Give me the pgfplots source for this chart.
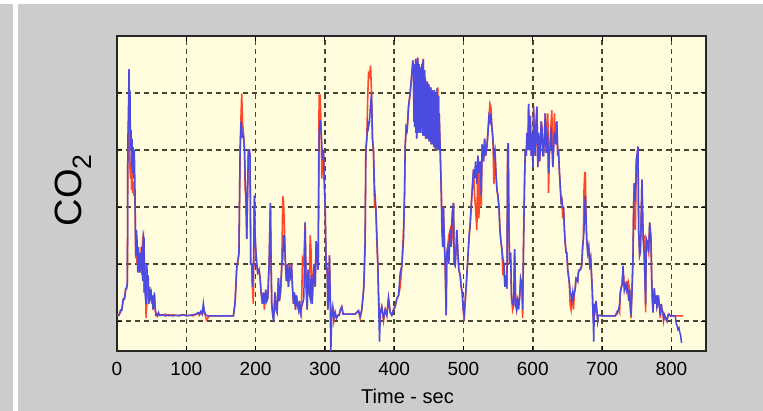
\documentclass[border=0pt]{standalone}
\usepackage{fontspec}
\setmainfont{Liberation Sans}
\usepackage{pgfplots}
\pgfplotsset{compat=1.18}
\usepackage{pgfplotstable}
\definecolor{bggray}{RGB}{204,204,204}
\definecolor{plotbg}{RGB}{255,253,222}
\definecolor{gridc}{RGB}{70,70,50}
\definecolor{co2blue}{RGB}{75,75,225}
\definecolor{co2red}{RGB}{255,72,40}

\pgfplotstableread{
t r b
0 1.10 1.10
3 1.12 1.10
5 1.15 1.19
7 1.22 1.19
9 1.35 1.39
11 1.42 1.39
12.5 1.55 1.57
14 1.60 1.57
15 1.65 1.70
15.6 3.80 4.12
16.4 4.30 4.60
17.3 4.70 5.42
18 4.10 4.40
18.7 3.70 5.05
19.5 3.50 4.00
20.2 3.80 4.35
21 3.30 3.70
21.8 3.60 4.20
22.6 3.25 3.60
23.4 3.45 4.05
24.2 3.20 3.50
25 3.30 4.00
26 3.10 3.30
27 2.10 2.15
28 2.50 2.60
29 2.00 2.40
30 2.30 1.85
31 1.90 2.30
32 2.20 2.00
33 1.85 1.85
34 2.00 2.20
35 2.30 1.90
36 1.80 2.30
37 2.45 1.70
38 2.50 2.50
39 1.50 2.45
40 1.60 1.60
41 2.00 1.40
42 1.05 1.30
43 1.30 2.00
44 1.70 1.70
45 1.50 1.80
46 1.60 1.30
47 1.40 1.60
48 1.45 1.45
49 1.50 1.55
50 1.30 1.35
51 1.40 1.45
52 1.20 1.20
54 1.45 1.50
55 1.20 1.25
56 1.15 1.10
58 1.08 1.10
60 1.12 1.15
61 1.10 1.10
65 1.10 1.11
70 1.12 1.09
75 1.09 1.11
80 1.11 1.09
85 1.10 1.10
90 1.10 1.09
95 1.11 1.11
100 1.10 1.09
105 1.10 1.10
110 1.09 1.11
114 1.12 1.12
117 1.13 1.15
119 1.10 1.12
121 1.16 1.17
123 1.12 1.12
124.6 1.20 1.31
126 1.15 1.18
127.5 1.10 1.12
129 1.02 1.10
131 1.05 1.09
133 1.09 1.09
140 1.09 1.09
150 1.09 1.09
160 1.09 1.09
168 1.09 1.09
170.4 1.30 1.34
172.8 1.90 1.97
175 2.10 2.10
176 2.20 2.20
177.6 3.90 4.00
179 4.60 4.50
180 4.99 4.40
181 4.50 4.23
182.5 4.30 4.25
184 4.00 4.00
185 3.30 3.50
186 3.19 3.19
187.3 2.44 2.44
188.8 3.50 3.50
189.6 4.00 4.00
191 4.00 4.00
192 3.90 3.90
193 2.00 2.00
194.5 2.00 2.00
195.4 1.60 1.60
196.8 1.30 1.80
198.3 3.20 3.20
199 2.60 2.60
200 2.30 2.30
201.7 2.00 2.00
203 1.85 1.85
205 1.90 1.90
206.5 1.75 1.75
208 1.50 1.50
209.9 1.30 1.30
211.3 1.50 1.50
212.7 1.20 1.30
214.7 1.55 1.55
216 1.35 1.35
217.6 1.40 1.40
219.5 2.00 2.00
221.4 3.07 3.07
222.4 2.00 2.00
223.3 1.30 1.30
224.8 1.10 1.10
226 1.05 0.98
228 1.50 1.50
229.6 1.20 1.20
231 1.15 1.15
233 1.75 1.75
234.4 1.35 1.35
235.9 1.50 1.50
237.8 1.97 1.97
239.3 3.19 2.10
240.3 3.10 2.50
241.7 2.60 2.50
243 2.00 2.00
244.5 1.70 1.70
246 2.00 2.00
247.4 1.60 1.60
248.9 1.90 1.90
250.3 1.80 1.80
251.8 2.00 2.00
253.2 1.60 1.60
254.7 1.30 1.30
256 1.50 1.50
257.6 1.20 1.20
259 1.45 1.45
260.4 1.30 1.30
262 1.20 1.20
263.3 1.35 1.35
264.7 1.15 1.15
266 1.10 1.25
267.7 2.09 1.30
269.6 2.00 1.40
271.5 2.73 2.73
273 1.60 1.60
274.4 1.20 1.20
275.8 1.90 1.90
277.3 1.50 1.50
278.8 2.50 1.40
280.2 2.20 1.80
281.6 1.30 1.30
283 1.70 1.70
284.5 2.00 2.00
286 1.60 1.60
287.4 2.40 2.40
288.8 2.10 2.10
290.3 1.90 1.90
291.7 4.96 4.30
293.1 4.96 4.52
294.6 4.40 4.30
295.6 3.50 4.10
296.5 3.83 3.83
297.9 4.00 4.00
299 3.50 3.50
300.4 3.00 3.00
301.8 2.00 2.00
303.3 1.90 1.90
304.3 1.20 1.20
305.2 1.45 1.45
306.6 2.15 2.15
307.6 1.50 1.50
308.5 1.10 0.40
310 1.10 1.10
311.4 1.25 1.25
312.9 1.00 1.05
314.8 1.15 1.15
316.7 1.05 1.05
318.6 1.10 1.10
320.6 1.10 1.10
322.5 1.20 1.20
324.4 1.25 1.25
326.3 1.12 1.12
329.2 1.12 1.12
334 1.12 1.12
338.8 1.12 1.12
343.7 1.12 1.12
346 1.15 1.15
348.5 1.18 1.18
350.9 1.05 1.08
353.3 1.20 1.20
354.8 1.40 1.40
356.2 1.60 1.60
357.2 2.00 2.00
358.1 2.41 2.41
359.1 4.00 4.00
360.5 4.20 4.20
362 5.00 4.47
363 5.34 4.40
364.4 5.30 4.50
365.9 5.48 4.80
367.3 5.00 4.99
368.7 4.20 4.20
370.1 4.00 4.00
371.6 3.00 3.37
373.5 3.00 3.00
374.9 2.40 2.55
376.4 2.00 2.00
377.3 1.51 1.51
378.8 1.10 0.64
380.2 1.15 1.15
382.1 1.25 1.25
384.6 1.00 1.05
387 1.20 1.20
389.4 1.10 1.10
391.8 1.40 1.40
394.2 1.15 1.15
396.6 1.10 1.10
399 1.20 1.20
401.4 1.25 1.25
403.8 1.39 1.39
406.3 1.45 1.45
408.7 1.60 1.85
411.1 1.97 1.97
413.5 2.60 2.44
414.9 3.20 3.20
415.9 4.06 4.06
417.3 4.40 4.40
418.8 4.35 4.35
420.7 4.76 4.76
423.1 5.00 5.00
425.5 5.34 5.34
427 5.57 5.57
428 5.30 5.30
428.5 4.50 4.50
429 5.50 5.50
429.5 4.40 4.40
430 5.45 5.45
430.5 4.60 4.60
431 5.60 5.60
431.5 4.30 4.30
432 5.40 5.40
432.5 4.20 4.20
433 5.55 5.55
433.5 4.40 4.40
434 5.62 5.62
434.5 4.30 4.30
435 5.30 5.30
435.5 4.50 4.50
436 5.50 5.50
436.5 4.35 4.35
437 5.40 5.40
437.5 4.30 4.30
438 5.45 5.45
438.5 4.50 4.50
439 5.20 5.20
439.5 4.40 4.40
440 5.50 5.50
440.5 4.30 4.30
441 5.55 5.55
441.5 4.25 4.25
442 5.60 5.60
442.5 4.40 4.40
443 5.30 5.30
443.5 4.25 4.25
444 5.40 5.40
444.5 4.30 4.30
445 5.25 5.25
445.5 4.20 4.20
446 5.20 5.20
446.5 4.30 4.30
447 5.15 5.15
447.5 4.20 4.20
448 5.20 5.20
448.5 4.25 4.25
449 5.10 5.10
449.5 4.20 4.20
450 5.15 5.15
450.5 4.15 4.15
451 5.10 5.10
451.5 4.25 4.25
452 5.05 5.05
452.5 4.15 4.15
453 5.10 5.10
453.5 4.10 4.10
454 5.00 5.00
454.5 4.20 4.20
455 5.05 5.05
455.5 4.10 4.10
456 5.00 5.00
456.5 4.15 4.15
457 4.95 4.95
457.5 4.05 4.05
458 5.05 5.05
458.5 4.10 4.10
459 4.90 4.90
459.5 4.00 4.00
460 5.00 5.00
460.5 4.10 4.10
461 4.85 4.85
461.5 4.05 4.05
462 5.08 5.08
462.5 4.00 4.00
463 5.10 4.90
463.5 4.05 4.05
464 4.95 4.95
464.5 4.00 4.00
465 4.64 4.64
466.4 4.00 4.00
467.9 3.30 3.30
468.8 2.90 2.60
470.2 2.30 2.30
471.1 3.00 3.00
472.6 2.30 2.30
473.6 1.90 2.03
475 1.10 1.10
476 2.20 2.20
477.4 2.30 2.30
478.9 2.50 2.00
480.8 2.60 2.60
482.2 2.30 2.30
483.7 2.50 2.90
485.6 3.07 3.07
486.6 2.00 2.00
488 1.97 1.97
489.5 2.30 2.30
490.4 2.60 2.60
491.9 2.20 2.20
493.3 1.90 1.90
495.3 1.80 1.80
496.7 1.60 1.60
498.2 1.50 1.50
499.6 1.20 1.20
501 1.00 1.10
502.5 1.35 1.35
503.9 1.60 1.60
505.3 1.90 1.90
506.8 2.20 2.20
508.2 2.50 2.50
509.7 2.70 2.70
511.1 3.00 3.00
512.6 3.30 3.30
514.5 3.66 3.66
516 3.20 3.50
517.4 3.00 3.80
519.3 2.60 3.40
520.8 3.90 3.90
522.2 2.80 3.60
524.2 3.80 3.80
525.6 3.00 3.20
527 4.10 4.10
529 3.80 3.80
530.5 4.20 4.20
531.9 3.90 3.90
533.8 4.06 4.06
535.3 4.30 4.30
536.7 4.58 4.58
538.2 4.81 4.50
539.6 4.75 4.64
541 4.40 4.40
542.5 4.20 4.20
543.9 3.40 3.90
545.4 4.00 4.00
546.8 3.60 3.60
548.3 3.30 3.30
549.7 3.20 3.20
551.2 3.00 3.00
552.6 2.60 2.60
554 2.40 2.40
555.5 2.26 2.26
556.9 1.80 2.10
558.4 2.00 2.00
559.8 1.60 1.60
561.3 1.80 1.80
562.7 1.57 1.57
563.7 4.00 4.00
564.6 4.12 4.12
565.6 2.70 2.70
566.5 2.00 2.00
568 2.20 2.20
569.4 1.40 1.40
570.9 1.20 1.30
572.4 1.28 1.28
573.8 2.26 2.26
575.3 1.30 1.30
576.7 1.20 1.20
578.2 1.40 1.40
579.6 1.35 1.20
581 1.40 1.40
582.5 1.74 1.74
584.4 1.63 1.63
585.4 1.05 1.20
586.8 2.44 2.44
588.2 3.48 3.48
589.2 4.00 4.00
590.6 3.90 3.90
591.6 4.30 4.30
593 4.00 4.00
594 4.81 4.81
595 4.00 4.00
596.4 4.60 4.60
597.8 3.90 3.90
598.8 4.30 4.30
600.3 3.70 3.70
601.2 4.76 4.76
602.6 4.00 4.00
603.6 3.90 3.90
604.5 4.40 4.40
606 4.76 4.76
607.4 3.70 3.70
608.4 4.30 4.30
609.9 3.80 3.80
610.8 4.00 4.00
612.2 4.50 4.50
613.2 4.40 4.40
614.6 3.90 3.90
615.6 3.90 3.90
617 4.30 4.30
618 4.64 4.64
619.4 3.95 3.95
620.4 4.40 4.30
621.8 4.64 4.20
622.7 3.25 3.60
624.2 4.00 4.00
625.2 4.20 4.00
626.6 4.50 4.40
627.5 4.70 4.10
629 3.70 3.70
630 4.00 4.00
631.3 4.64 4.30
632.3 4.20 4.20
633.7 4.10 4.10
634.7 4.50 4.50
636.1 3.90 3.90
637.1 4.00 4.00
638.5 3.60 3.60
639.5 3.40 3.40
640.9 3.10 3.10
641.9 3.13 3.13
643.3 2.80 3.00
644.3 3.00 3.00
645.7 2.60 2.60
646.6 2.40 2.40
648.1 2.20 2.20
649 2.20 2.20
650.5 1.90 1.90
651.5 1.80 1.80
652.9 1.65 1.65
653.9 1.30 1.51
655.3 1.20 1.45
656.3 1.35 1.35
657.7 1.50 1.50
658.7 1.20 1.40
660.1 1.50 1.50
661.1 1.55 1.55
662.5 1.75 1.75
663.4 1.74 1.74
664.9 1.70 1.70
665.8 1.85 1.85
667.3 1.90 1.90
668.7 1.90 1.90
670.6 1.97 1.97
672 2.30 2.30
673 2.44 2.44
674 3.30 2.60
675 3.60 3.00
675.9 3.60 3.20
676.9 2.80 2.80
677.8 2.44 2.44
679.3 2.20 2.20
680.7 2.30 2.30
682.2 2.00 2.00
683.6 2.10 2.10
684.6 1.86 1.86
686 1.51 1.51
687 1.10 1.10
688 1.00 0.64
688.9 1.30 1.30
689.9 1.20 1.20
691.3 1.35 1.35
692.3 1.20 1.20
693.7 1.02 1.00
694.7 1.10 1.10
697.1 1.10 1.10
699.5 1.09 1.09
705 1.09 1.09
712 1.09 1.09
719 1.09 1.09
721.5 1.12 1.16
723.9 1.20 1.20
725.3 1.15 1.30
726.4 1.51 1.51
727.9 1.60 1.60
728.8 1.63 1.63
730.3 1.85 1.97
731.2 1.80 1.70
732.2 1.55 1.55
733.6 1.63 1.63
735.1 1.55 1.55
736 1.70 1.63
737.5 1.50 1.50
738.4 1.65 1.35
739.9 1.55 1.55
740.8 1.30 1.20
741.8 1.05 1.10
743.2 1.51 1.51
744.6 2.09 2.09
745.6 3.02 3.02
746.5 3.42 3.42
748 2.60 3.10
749.5 3.83 3.83
750.4 3.90 3.90
751.9 4.06 4.06
752.8 2.60 2.60
754.2 2.15 2.15
755.2 2.20 2.20
756.1 2.60 2.60
757.6 3.48 3.48
758.5 3.00 2.80
759.5 2.40 2.40
760.5 2.50 2.20
761.4 1.97 1.97
762.4 1.50 1.50
762.9 1.15 1.30
763.8 2.44 2.44
764.8 2.40 2.40
765.8 2.30 2.40
767.2 2.20 2.20
768.7 2.73 2.73
769.6 2.60 2.60
770.6 2.44 2.44
771.5 1.80 1.80
772.5 1.40 1.40
773.5 1.15 1.15
774.4 1.35 1.35
775.4 1.57 1.57
776.8 1.30 1.30
778.3 1.45 1.45
779.2 1.25 1.25
780.2 1.30 1.30
781.1 1.45 1.45
782.1 1.35 1.35
783.1 1.20 1.20
784 1.05 1.10
785.5 1.30 1.30
786.4 1.20 1.20
787.9 1.15 1.15
788.8 1.00 1.03
790.3 1.10 1.10
791.7 1.05 1.05
793.6 1.00 1.00
795.1 1.10 1.10
796.5 1.12 1.12
798.4 1.09 1.09
803.3 1.09 1.09
805.7 1.09 1.09
807.1 1.09 0.95
808.1 1.09 0.93
809.5 1.09 0.85
811 1.09 0.88
812 1.09 0.81
813.4 1.09 0.75
814.4 1.09 0.64
815.4 1.09 0.62
817 1.09 nan
}\codata

\begin{document}
\begin{tikzpicture}
\fill[bggray] (0,0) rectangle (763pt,411pt);
\fill[white] (0,407pt) rectangle (763pt,411pt);
\fill[white] (12.5pt,0) rectangle (17.5pt,407pt);
\begin{axis}[
  at={(117pt,60pt)}, anchor=south west,
  scale only axis, width=589pt, height=315pt,
  xmin=0, xmax=850, ymin=0.474, ymax=6,
  axis background/.style={fill=plotbg},
  xtick={0,100,...,800}, ytick={1,2,3,4,5}, yticklabels={},
  tick align=inside, major tick length=5pt,
  tick style={black, line width=1pt},
  axis line style={black!85, line width=1.6pt},
  grid=major,
  major grid style={gridc, dash pattern=on 5pt off 4pt, line width=1.5pt},
  /pgf/number format/assume math mode=true,
  xticklabel style={font=\fontsize{19}{22}\selectfont, inner sep=0pt, yshift=-11pt},
  xlabel={Time - sec},
  xlabel style={font=\fontsize{20}{24}\selectfont, at={(axis description cs:0.5,0)}, anchor=north, inner sep=0pt, yshift=-38pt, xshift=-4pt},
  clip=true,
]
\addplot[co2red, line width=1.6pt] table[x=t, y=r] {\codata};
\addplot[co2blue, line width=1.5pt] table[x=t, y=b] {\codata};
\end{axis}
\node[rotate=90, font=\fontsize{38}{44}\selectfont, inner sep=0pt] at (73pt,221pt) {CO\textsubscript{2}};
\pgfresetboundingbox
\useasboundingbox (0,0) rectangle (763pt,411pt);
\end{tikzpicture}
\end{document}
